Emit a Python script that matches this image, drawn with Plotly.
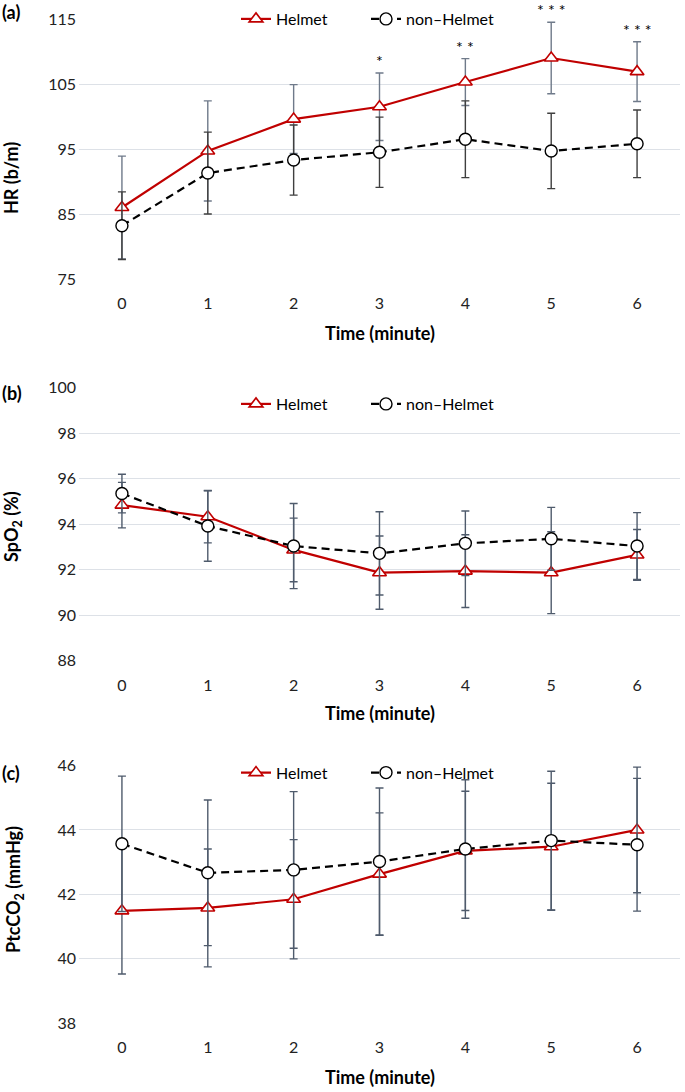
import plotly.graph_objects as go

minutes = [0, 1, 2, 3, 4, 5, 6]

# Panel (a) HR (b/m)
hr_helmet = [86.0, 94.7, 99.6, 101.5, 105.3, 109.0, 106.9]
hr_helmet_sd = [7.9, 7.7, 5.3, 5.2, 3.6, 5.5, 4.6]
hr_non = [83.2, 91.3, 93.3, 94.5, 96.5, 94.7, 95.8]
hr_non_sd = [5.2, 6.3, 5.4, 5.4, 5.9, 5.8, 5.2]
hr_sig = ["", "", "", "*", "* *", "* * *", "* * *"]

# Panel (b) SpO2 (%)
spo2_helmet = [94.83, 94.32, 92.86, 91.86, 91.93, 91.86, 92.64]
spo2_helmet_sd = [1.0, 1.15, 1.4, 1.61, 1.6, 1.8, 1.12]
spo2_non = [95.34, 93.91, 93.03, 92.71, 93.15, 93.35, 93.03]
spo2_non_sd = [0.85, 1.55, 1.87, 1.83, 1.42, 1.38, 1.47]

# Panel (c) PtcCO2 (mmHg)
co2_helmet = [41.49, 41.58, 41.85, 42.63, 43.35, 43.48, 44.0]
co2_helmet_sd = [1.96, 1.83, 1.85, 1.9, 1.85, 1.97, 1.95]
co2_non = [43.57, 42.67, 42.76, 43.02, 43.41, 43.67, 43.54]
co2_non_sd = [2.1, 2.26, 2.43, 2.28, 2.15, 2.15, 2.06]

W, H = 685, 1092
FONT = "Lato"
RED = "#C00000"

def py(p):
    return 1 - p / H

def px(p):
    return p / W

fig = go.Figure()

panels = [
    dict(key="", leg="legend", h=hr_helmet, hs=hr_helmet_sd, n=hr_non, ns=hr_non_sd,
         top=19, bot=279, rng=[75, 115], dt=10, ebh="#6f7a8a", ebn="#3f3f3f"),
    dict(key="2", leg="legend2", h=spo2_helmet, hs=spo2_helmet_sd, n=spo2_non, ns=spo2_non_sd,
         top=387.5, bot=660.5, rng=[88, 100], dt=2, ebh="#4f5b6c", ebn="#4f5b6c"),
    dict(key="3", leg="legend3", h=co2_helmet, hs=co2_helmet_sd, n=co2_non, ns=co2_non_sd,
         top=765.5, bot=1023.3, rng=[38, 46], dt=2, ebh="#4f5b6c", ebn="#4f5b6c"),
]

for p in panels:
    xa = "x" + p["key"]
    ya = "y" + p["key"]
    fig.add_trace(go.Scatter(
        x=minutes, y=p["h"], name="Helmet", mode="lines+markers",
        xaxis=xa, yaxis=ya, legend=p["leg"],
        line=dict(color=RED, width=2.2),
        marker=dict(symbol="triangle-up", size=12, color="white",
                    line=dict(color=RED, width=1.6)),
        error_y=dict(type="data", array=p["hs"], color=p["ebh"], thickness=1.4, width=4),
        cliponaxis=False,
    ))
    fig.add_trace(go.Scatter(
        x=minutes, y=p["n"], name="non\u2013Helmet", mode="lines+markers",
        xaxis=xa, yaxis=ya, legend=p["leg"],
        line=dict(color="black", width=2.2, dash="8px,5px"),
        marker=dict(symbol="circle", size=12, color="white",
                    line=dict(color="black", width=1.4)),
        error_y=dict(type="data", array=p["ns"], color=p["ebn"], thickness=1.4, width=4),
        cliponaxis=False,
    ))

axis_common_x = dict(
    range=[-0.5, 6.5], tickmode="array", tickvals=minutes,
    ticktext=[str(m) for m in minutes], showgrid=False, zeroline=False,
    showline=False, ticks="", ticklabelstandoff=13,
    tickfont=dict(family=FONT, size=16, color="#222222"),
    domain=[px(79), px(680)], fixedrange=True, automargin=False,
)
axis_common_y = dict(
    showgrid=True, gridcolor="#dde1e7", gridwidth=1, zeroline=False,
    showline=False, ticks="", ticklabelstandoff=2,
    tickfont=dict(family=FONT, size=16, color="#222222"), fixedrange=True,
    automargin=False,
)

layout = dict(
    width=W, height=H, margin=dict(l=0, r=0, t=0, b=0, autoexpand=False),
    paper_bgcolor="white", plot_bgcolor="white",
    font=dict(family=FONT, size=16, color="black"),
    showlegend=True, hovermode=False,
)
for p in panels:
    k = p["key"]
    layout["xaxis" + k] = dict(axis_common_x, anchor="y" + k)
    layout["yaxis" + k] = dict(axis_common_y, anchor="x" + k, range=p["rng"], dtick=p["dt"],
                               tick0=p["rng"][0], domain=[py(p["bot"]), py(p["top"])])

legend_y = [19, 404, 772.7]
for name, yc in zip(["legend", "legend2", "legend3"], legend_y):
    layout[name] = dict(
        orientation="h", x=px(236), xanchor="left", y=py(yc), yanchor="middle",
        bgcolor="rgba(0,0,0,0)", borderwidth=0, entrywidth=85,
        font=dict(family=FONT, size=16, color="black"), traceorder="normal",
        itemclick=False, itemdoubleclick=False,
    )

fig.update_layout(**layout)

ann = []
# significance stars over Helmet error bars (panel a)
for m, v, s, t in zip(minutes, hr_helmet, hr_helmet_sd, hr_sig):
    if t:
        ann.append(dict(x=m, y=v + s, xref="x", yref="y", text=t, showarrow=False,
                        yanchor="middle", yshift=12.5,
                        font=dict(family=FONT, size=16, color="black")))

# panel labels
for lab, yc in [("(a)", 12), ("(b)", 393), ("(c)", 773)]:
    ann.append(dict(x=0, y=py(yc), xref="paper", yref="paper", text="<b>%s</b>" % lab,
                    showarrow=False, xanchor="left", yanchor="middle",
                    font=dict(family=FONT, size=18, color="black")))

# y-axis titles
for txt, xc, yc in [("HR (b/m)", 11, 178),
                    ("SpO<sub>2</sub> (%)", 12, 527),
                    ("PtcCO<sub>2</sub> (mmHg)", 14, 890)]:
    ann.append(dict(x=px(xc), y=py(yc), xref="paper", yref="paper", text="<b>%s</b>" % txt,
                    showarrow=False, textangle=-90, xanchor="center", yanchor="middle",
                    font=dict(family=FONT, size=18, color="black")))

# x-axis titles
for yc in [333, 713, 1077]:
    ann.append(dict(x=px(380), y=py(yc), xref="paper", yref="paper", text="<b>Time (minute)</b>",
                    showarrow=False, xanchor="center", yanchor="middle",
                    font=dict(family=FONT, size=18, color="black")))

fig.update_layout(annotations=ann)

fig.write_html("out.html", config={"displayModeBar": False, "staticPlot": True},
               post_script="document.body.style.margin='0';document.body.style.overflow='hidden';")
